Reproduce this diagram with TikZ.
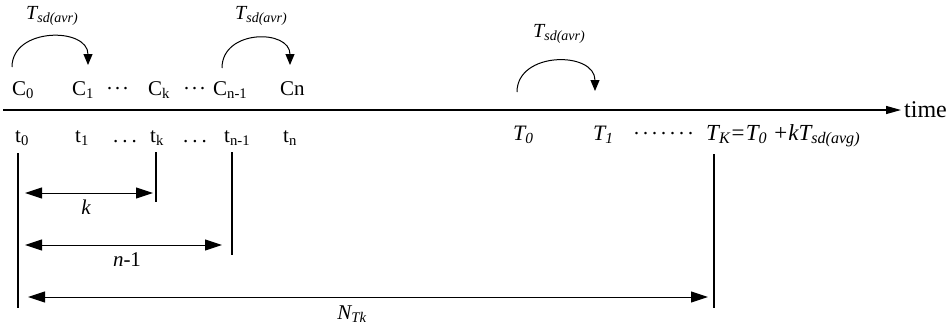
\documentclass[tikz,border=0pt]{standalone}
\usepackage{fontspec}
\setmainfont{Liberation Serif}
\usetikzlibrary{arrows.meta}
\begin{document}
\begin{tikzpicture}[x=1pt,y=-1pt,
  lbl/.style={inner sep=0pt,anchor=base west,font=\fontsize{21}{24}\selectfont},
  ilbl/.style={inner sep=0pt,anchor=base west,font=\fontsize{22}{24}\selectfont\itshape},
  hlbl/.style={inner sep=0pt,anchor=base west,font=\fontsize{20}{24}\selectfont\itshape},
  clbl/.style={inner sep=0pt,anchor=center,font=\fontsize{21}{24}\selectfont\itshape},
  axis/.style={line width=1.2pt,-{Triangle[length=15pt,width=8pt]}},
  hop/.style={line width=1pt,-{Triangle[length=11pt,width=9pt]}},
  dimarrow/.style={line width=1pt,{Triangle[length=17pt,width=11pt]}-{Triangle[length=17pt,width=11pt]}},
  tickline/.style={line width=1.1pt}]
\useasboundingbox (0,0) rectangle (952,333);
% axis
\coordinate (axL) at (3,110);
\coordinate (axR) at (901,110);
\draw[axis] (axL) -- (axR);
\node[inner sep=0pt,anchor=west,font=\fontsize{24}{26}\selectfont] (time) at (904,110) {time};
% C row
\node[lbl] (c0) at (12,95) {C\textsubscript{0}};
\node[lbl] (c1) at (72,95) {C\textsubscript{1}};
\node[lbl] (cd1) at (106,95) {·\kern1pt·\kern1pt·};
\node[lbl] (ck) at (148,95) {C\textsubscript{k}};
\node[lbl] (cd2) at (183,95) {·\kern1pt·\kern1pt·};
\node[lbl] (cn1) at (213,95) {C\textsubscript{n-1}};
\node[lbl] (cn) at (280,95) {Cn};
% t row
\node[lbl] (t0) at (15,142) {t\textsubscript{0}};
\node[lbl] (t1) at (75,142) {t\textsubscript{1}};
\node[lbl] (td1) at (113,142) {.\kern4pt.\kern4pt.};
\node[lbl] (tk) at (150,142) {t\textsubscript{k}};
\node[lbl] (td2) at (183,142) {.\kern4pt.\kern4pt.};
\node[lbl] (tn1) at (224,142) {t\textsubscript{n-1}};
\node[lbl] (tn) at (283,142) {t\textsubscript{n}};
% T row
\node[ilbl] (T0) at (513,140) {T\textsubscript{0}};
\node[ilbl] (T1) at (593,140) {T\textsubscript{1}};
\node[lbl] (Td) at (633,140) {·\kern2pt·\kern2pt·\kern2pt·\kern2pt·\kern2pt·\kern2pt·};
\node[ilbl,font=\fontsize{23}{24}\selectfont\itshape] (TK) at (706,140) {T\textsubscript{K}=T\textsubscript{0} +kT\textsubscript{sd(avg)}};
% hop labels
\node[hlbl] (h1) at (26,19) {T\textsubscript{sd(avr)}};
\node[hlbl] (h2) at (235,19) {T\textsubscript{sd(avr)}};
\node[hlbl] (h3) at (533,37) {T\textsubscript{sd(avr)}};
% hop arcs
\coordinate (a1s) at (12,67);
\coordinate (a1e) at (88,65);
\draw[hop] (a1s) .. controls (12,27) and (88,27) .. (a1e);
\coordinate (a2s) at (222,68);
\coordinate (a2e) at (290,65);
\draw[hop] (a2s) .. controls (222,29) and (290,29) .. (a2e);
\coordinate (a3s) at (517,92);
\coordinate (a3e) at (595,91);
\draw[hop] (a3s) .. controls (517,51) and (595,51) .. (a3e);
% vertical lines
\coordinate (v0t) at (18,153); \coordinate (v0b) at (18,308);
\coordinate (vkt) at (156,152); \coordinate (vkb) at (156,202);
\coordinate (vnt) at (232,152); \coordinate (vnb) at (232,255);
\coordinate (vKt) at (714,154); \coordinate (vKb) at (714,308);
\draw[tickline] (v0t) -- (v0b);
\draw[tickline] (vkt) -- (vkb);
\draw[tickline] (vnt) -- (vnb);
\draw[tickline] (vKt) -- (vKb);
% dimension arrows
\coordinate (k0) at (25,193); \coordinate (k1) at (153,193);
\draw[dimarrow] (k0) -- (k1);
\node[clbl] (klbl) at (86,207) {k};
\coordinate (n0) at (25,245); \coordinate (n1) at (222,245);
\draw[dimarrow] (n0) -- (n1);
\node[clbl] (nlbl) at (127,260) {n\upshape -1};
\coordinate (N0) at (28,297); \coordinate (N1) at (708,297);
\draw[dimarrow] (N0) -- (N1);
\node[clbl] (Nlbl) at (352,314) {N\textsubscript{Tk}};
\end{tikzpicture}
\end{document}
